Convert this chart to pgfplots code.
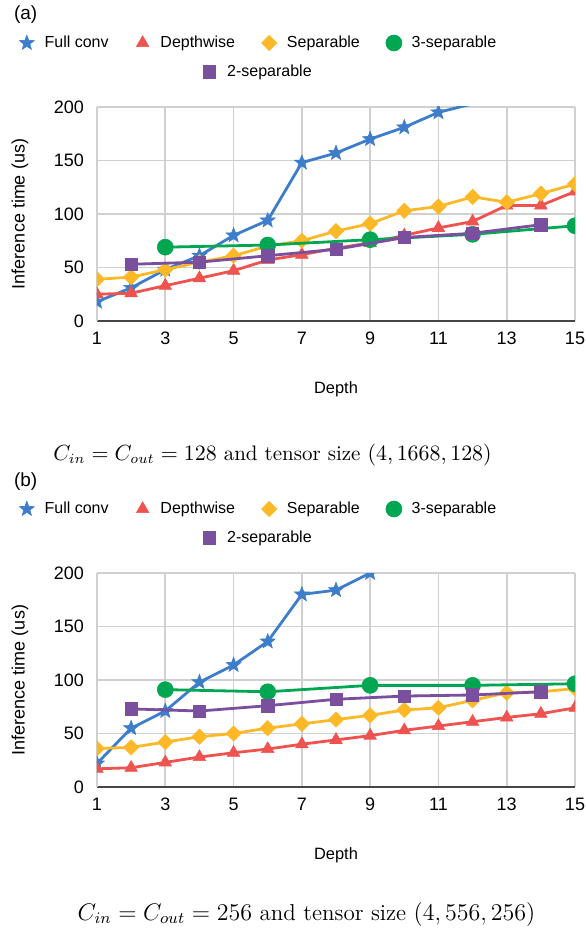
\documentclass[border=0pt]{standalone}
\usepackage{pgfplots}
\pgfplotsset{compat=1.18}
\usepackage{fontspec}
\newfontfamily\arial{Liberation Sans}

\definecolor{cfull}{RGB}{61,125,202}
\definecolor{cdepth}{RGB}{238,83,80}
\definecolor{csep}{RGB}{253,184,39}
\definecolor{cthree}{RGB}{0,166,81}
\definecolor{ctwo}{RGB}{122,79,158}
\definecolor{gridc}{RGB}{208,208,208}
\definecolor{basec}{RGB}{70,70,70}

% filled five-point star
\pgfdeclareplotmark{fstar}{%
  \pgfpathmoveto{\pgfpointpolar{90}{\pgfplotmarksize}}%
  \pgfpathlineto{\pgfpointpolar{126}{0.42\pgfplotmarksize}}%
  \pgfpathlineto{\pgfpointpolar{162}{\pgfplotmarksize}}%
  \pgfpathlineto{\pgfpointpolar{198}{0.42\pgfplotmarksize}}%
  \pgfpathlineto{\pgfpointpolar{234}{\pgfplotmarksize}}%
  \pgfpathlineto{\pgfpointpolar{270}{0.42\pgfplotmarksize}}%
  \pgfpathlineto{\pgfpointpolar{306}{\pgfplotmarksize}}%
  \pgfpathlineto{\pgfpointpolar{342}{0.42\pgfplotmarksize}}%
  \pgfpathlineto{\pgfpointpolar{18}{\pgfplotmarksize}}%
  \pgfpathlineto{\pgfpointpolar{54}{0.42\pgfplotmarksize}}%
  \pgfpathclose\pgfusepathqfillstroke}

\pgfplotsset{
  legstyle/.style={
    legend image code/.code={%
      \path[draw=none,fill=none] (-4pt,-3pt) (4pt,3pt);
      \draw[##1,only marks] plot coordinates {(0pt,0pt)};},
    legend style={draw=none, fill=none, font=\fontsize{8}{10}\arial, anchor=center,
      /tikz/every odd column/.append style={column sep=2.9pt},
      /tikz/every even column/.append style={column sep=11pt}},
    legend columns=4, legend cell align=left,
  },
  depthplot/.style={
    scale only axis, width=239pt, height=107pt,
    xmin=1, xmax=15, ymin=0, ymax=200,
    xtick={1,3,...,15}, ytick={0,50,...,200},
    major tick length=0pt,
    grid=major, grid style={draw=gridc, line width=0.8pt},
    axis x line*=bottom, axis y line*=left,
    x axis line style={-, draw=basec, line width=0.7pt},
    y axis line style={-, draw=gridc, line width=0.8pt},
    tick label style={font=\fontsize{9}{10}\arial},
    /pgf/number format/assume math mode=true,
    xticklabel style={yshift=-2pt},
    yticklabel style={xshift=-3pt},
    xlabel={Depth},
    xlabel style={font=\fontsize{8.2}{10}\arial, at={(axis description cs:0.5,-0.318)}, anchor=center},
    ylabel={Inference time (us)},
    ylabel style={font=\fontsize{9}{10}\arial, at={(axis description cs:-0.161,0.5)}, anchor=center},
    clip marker paths=true,
    every axis plot/.append style={line width=1.4pt},
    legstyle,
    legend style={at={(axis description cs:0.34,1.299)}},
  },
  fullc/.style={color=cfull, mark=fstar, mark size=3.9pt, mark options={line width=0.3pt}},
  depthw/.style={color=cdepth, mark=triangle*, mark size=3.6pt, mark options={line width=0.3pt}},
  sepa/.style={color=csep, mark=square*, mark size=2.7pt, mark options={rotate=45, line width=0.3pt}},
  three/.style={color=cthree, mark=*, mark size=4pt, mark options={line width=0.3pt}},
  two/.style={color=ctwo, mark=square*, mark size=3.1pt, mark options={line width=0.3pt}},
}

\begin{document}
\begin{tikzpicture}
% ---------- (a) ----------
\begin{axis}[depthplot, at={(0,0)}]
\addplot[fullc] coordinates {(1,18)(2,31)(3,48)(4,61)(5,80)(6,94)(7,148)(8,157)(9,170)(10,181)(11,195)(12,203)};
\addlegendentry{Full conv}
\addplot[depthw] coordinates {(1,25)(2,26)(3,33)(4,40)(5,47)(6,57)(7,62)(8,68)(9,73)(10,80)(11,87)(12,93)(13,108)(14,108)(15,121)};
\addlegendentry{Depthwise}
\addplot[sepa] coordinates {(1,39)(2,41)(3,48)(4,55)(5,61)(6,70)(7,75)(8,84)(9,91)(10,103)(11,107)(12,116)(13,111)(14,119)(15,128)};
\addlegendentry{Separable}
\addplot[three] coordinates {(3,69)(6,71)(9,76)(12,81)(15,89)};
\addlegendentry{3-separable}
\addplot[two] coordinates {(2,53)(4,55)(6,61)(8,67)(10,78)(12,82)(14,90)};
\end{axis}
\begin{axis}[at={(0,0)}, scale only axis, width=239pt, height=107pt, hide axis,
  xmin=0, xmax=1, ymin=0, ymax=1, legstyle,
  legend style={at={(axis description cs:0.338,1.164)}}]
\addlegendimage{two, line width=1.4pt}
\addlegendentry{2-separable}
\end{axis}
\node[font=\fontsize{9.5}{11}\arial, anchor=west] at (-45pt,153pt) {(a)};
\node[font=\fontsize{10.5}{12}\selectfont] at (87.75pt,-67pt) {$C_{in} = C_{out} = 128$ and tensor size $(4, 1668, 128)$};

% ---------- (b) ----------
\begin{axis}[depthplot, at={(0,-233pt)}]
\addplot[fullc] coordinates {(1,22)(2,55)(3,71)(4,98)(5,114)(6,136)(7,180)(8,184)(9,200)};
\addlegendentry{Full conv}
\addplot[depthw] coordinates {(1,17)(2,18)(3,23)(4,28)(5,32)(6,35.5)(7,40)(8,44)(9,48)(10,53)(11,57)(12,61)(13,65)(14,68.5)(15,74)};
\addlegendentry{Depthwise}
\addplot[sepa] coordinates {(1,36)(2,37)(3,42)(4,47)(5,50)(6,55)(7,59)(8,63)(9,67)(10,72)(11,74)(12,81)(13,88)(14,89)(15,92)};
\addlegendentry{Separable}
\addplot[three] coordinates {(3,91)(6,89)(9,95)(12,95)(15,96.5)};
\addlegendentry{3-separable}
\addplot[two] coordinates {(2,73)(4,71)(6,76)(8,82)(10,85)(12,86)(14,89)};
\end{axis}
\begin{axis}[at={(0,-233pt)}, scale only axis, width=239pt, height=107pt, hide axis,
  xmin=0, xmax=1, ymin=0, ymax=1, legstyle,
  legend style={at={(axis description cs:0.338,1.164)}}]
\addlegendimage{two, line width=1.4pt}
\addlegendentry{2-separable}
\end{axis}
\node[font=\fontsize{9.5}{11}\arial, anchor=west] at (-45pt,-80.5pt) {(b)};
\node[font=\fontsize{11.5}{13}\selectfont] at (104.75pt,-296.5pt) {$C_{in} = C_{out} = 256$ and tensor size $(4, 556, 256)$};

\pgfresetboundingbox
\path[use as bounding box] (-48.5pt,160.5pt) rectangle (244pt,-307pt);
\end{tikzpicture}
\end{document}
